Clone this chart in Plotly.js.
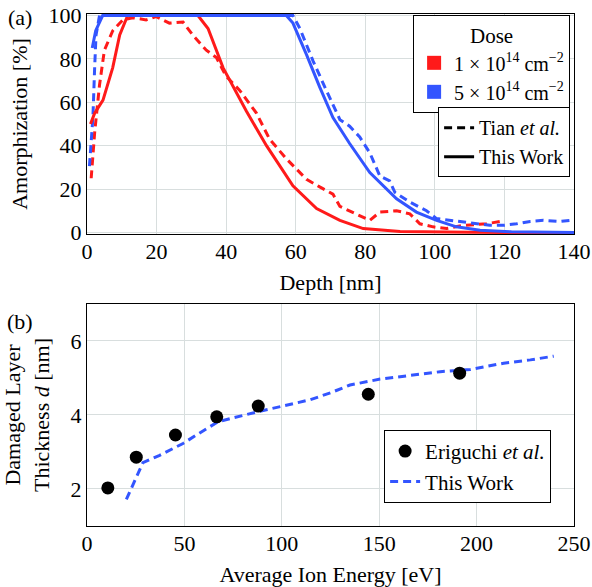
<!DOCTYPE html>
<html>
<head>
<meta charset="utf-8">
<script src="https://cdn.plot.ly/plotly-3.0.1.min.js"></script>
<style>html,body{margin:0;padding:0;background:#fff;}#chart{width:592px;height:587px;}</style>
</head>
<body>
<div id="chart"></div>
<script>
// ---- Panel (a): amorphization vs depth ----
const redWorkDepth = [1, 2.2, 4.6, 7.4, 9.4, 11.7, 20, 31.9, 34.8, 39.1, 45.8, 51.6, 59.2, 66, 72.7, 79.4, 90, 100, 110, 120, 140];
const redWorkAmorph = [50, 55, 61, 76, 91, 100, 100, 100, 94, 76, 56, 40, 21.5, 11, 5.6, 1.8, 0.5, 0.2, 0.1, 0, 0];

const redTianDepth = [1.2, 2.2, 3.6, 5, 7.4, 10.3, 13.2, 17, 19.9, 23.7, 27.6, 30.4, 34.3, 37.2, 40, 43.9, 48.7, 52.5, 57.3, 63.1, 66.9, 70.7, 72.7, 78.4, 81.3, 84.2, 89, 92.8, 95.7, 99.5, 103.4, 108.2, 114.9, 118.7];
const redTianAmorph = [25, 46, 68, 84, 93, 98, 99, 98, 99.5, 96.5, 97, 91, 84, 80.6, 72, 65.5, 55, 43, 34, 24.5, 21, 17.7, 12, 7.9, 5.6, 9.4, 10, 8.6, 4, 2.6, 1.8, 3.3, 4, 5.1];

const blueWorkDepth = [1.5, 2.5, 4.5, 20, 57.3, 59.2, 63.1, 66.9, 70.7, 75.5, 81.3, 89, 94.7, 100.5, 106.2, 113, 122, 140];
const blueWorkAmorph = [85, 93, 100, 100, 100, 96.5, 82, 67, 53, 41, 27.6, 15.5, 9.4, 5.6, 2.6, 1, 0.3, 0];

const blueTianDepth = [0.7, 1.7, 2.2, 2.6, 3.6, 59.2, 61.2, 65, 68.8, 72.7, 75.5, 78.4, 81.3, 84.2, 87, 88.5, 92.8, 97.6, 100.5, 104.3, 108.2, 112, 115.8, 119.7, 123.5, 127.4, 131.2, 136, 138.8, 140];
const blueTianAmorph = [30.6, 53, 76, 91, 100, 100, 94, 79, 65.5, 52, 49, 44, 36.7, 26, 23.8, 18.5, 14, 10, 6.4, 5.6, 4.9, 4, 3.3, 3.3, 4, 5.1, 5.6, 5.1, 5.6, 5];

const depthTicks = [0, 20, 40, 60, 80, 100, 120, 140];
const amorphTicks = [0, 20, 40, 60, 80, 100];

// ---- Panel (b): damaged layer thickness vs energy ----
const eriguchiEnergy = [10.7, 25.3, 45.4, 66.6, 87.9, 144.4, 191.3];
const eriguchiThickness = [2.03, 2.86, 3.46, 3.95, 4.24, 4.56, 5.13];
const workEnergy = [20.2, 28.7, 37.3, 49.3, 56.2, 67.3, 87.9, 114.5, 125, 135, 150.5, 181.3, 196.8, 213.9, 227.6, 239.6];
const workThickness = [1.72, 2.71, 2.91, 3.23, 3.46, 3.82, 4.09, 4.41, 4.6, 4.81, 4.97, 5.17, 5.23, 5.40, 5.49, 5.59];
const energyTicks = [0, 50, 100, 150, 200, 250];
const thicknessTicks = [2, 4, 6];

const RED = '#ff1a1a';
const BLUE = '#3355ff';
const DASH = '8px,5px';
const FONT = 'Liberation Serif';
const FS = 22;
function mkFont(size) { return {family: FONT, size: size}; }

const traces = [
  {x: redTianDepth, y: redTianAmorph, mode: 'lines', line: {color: RED, width: 3, dash: DASH}, showlegend: false, xaxis: 'x', yaxis: 'y'},
  {x: blueTianDepth, y: blueTianAmorph, mode: 'lines', line: {color: BLUE, width: 3, dash: DASH}, showlegend: false, xaxis: 'x', yaxis: 'y'},
  {x: redWorkDepth, y: redWorkAmorph, mode: 'lines', line: {color: RED, width: 3}, showlegend: false, xaxis: 'x', yaxis: 'y'},
  {x: blueWorkDepth, y: blueWorkAmorph, mode: 'lines', line: {color: BLUE, width: 3}, showlegend: false, xaxis: 'x', yaxis: 'y'},
  // legend-only entries
  {x: [null], y: [null], mode: 'markers', marker: {symbol: 'square', size: 14, color: RED}, name: '1 × 10<sup>14</sup> cm<sup>−2</sup>', legend: 'legend', xaxis: 'x', yaxis: 'y'},
  {x: [null], y: [null], mode: 'markers', marker: {symbol: 'square', size: 14, color: BLUE}, name: '5 × 10<sup>14</sup> cm<sup>−2</sup>', legend: 'legend', xaxis: 'x', yaxis: 'y'},
  {x: [null], y: [null], mode: 'lines', line: {color: 'black', width: 3, dash: DASH}, name: 'Tian <i>et al.</i>', legend: 'legend2', xaxis: 'x', yaxis: 'y'},
  {x: [null], y: [null], mode: 'lines', line: {color: 'black', width: 3}, name: 'This Work', legend: 'legend2', xaxis: 'x', yaxis: 'y'},
  // panel b
  {x: workEnergy, y: workThickness, mode: 'lines', line: {color: BLUE, width: 3, dash: DASH}, name: 'This Work', legend: 'legend3', xaxis: 'x2', yaxis: 'y2'},
  {x: eriguchiEnergy, y: eriguchiThickness, mode: 'markers', marker: {color: 'black', size: 13}, name: 'Eriguchi <i>et al.</i>', legend: 'legend3', xaxis: 'x2', yaxis: 'y2'}
];

function mkAxis(extra) {
  return Object.assign({
    showline: true, mirror: true, linecolor: 'black', linewidth: 1.2,
    showgrid: true, gridcolor: '#d8dede', gridwidth: 1,
    zeroline: false, ticks: '', tickfont: mkFont(FS),
    automargin: false
  }, extra);
}
function mkLegend(extra) {
  return Object.assign({
    font: mkFont(20),
    bgcolor: 'white', bordercolor: 'black', borderwidth: 1,
    xref: 'paper', yref: 'paper', xanchor: 'right', yanchor: 'top',
    tracegroupgap: 0, itemwidth: 30
  }, extra);
}

const layout = {
  width: 592, height: 587,
  margin: {l: 87, r: 18, t: 14, b: 61},
  paper_bgcolor: 'white', plot_bgcolor: 'white',
  font: {family: FONT, size: FS, color: 'black'},
  xaxis: mkAxis({domain: [0, 1], range: [0, 140], tickvals: depthTicks, anchor: 'y', ticklabelstandoff: -3,
    title: {text: 'Depth [nm]', font: mkFont(FS), standoff: 12}}),
  yaxis: mkAxis({domain: [0.5703, 1], range: [-0.7, 100.7], tickvals: amorphTicks, anchor: 'x',
    title: {text: 'Amorphization [%]', font: mkFont(FS), standoff: 14}}),
  xaxis2: mkAxis({domain: [0, 1], range: [0, 250], tickvals: energyTicks, anchor: 'y2', ticklabelstandoff: -3,
    title: {text: 'Average Ion Energy [eV]', font: mkFont(FS), standoff: 14}}),
  yaxis2: mkAxis({domain: [0, 0.4336], range: [1, 7], tickvals: thicknessTicks, anchor: 'x2',
    title: {text: 'Damaged Layer<br>Thickness <i>d</i> [nm]', font: mkFont(FS), standoff: 18}}),
  legend: mkLegend({x: 0.992, y: 0.998,
    title: {text: 'Dose', side: 'top center', font: mkFont(21)}}),
  legend2: mkLegend({x: 0.992, y: 0.818}),
  legend3: mkLegend({x: 0.953, y: 0.045, yanchor: 'bottom', traceorder: 'reversed', font: mkFont(21)}),
  annotations: [
    {text: '(a)', xref: 'paper', yref: 'paper', x: -0.138, y: 0.994, xanchor: 'center', yanchor: 'middle', showarrow: false, font: mkFont(FS)},
    {text: '(b)', xref: 'paper', yref: 'paper', x: -0.138, y: 0.400, xanchor: 'center', yanchor: 'middle', showarrow: false, font: mkFont(FS)}
  ],
  showlegend: true
};

Plotly.newPlot('chart', traces, layout, {displayModeBar: false, staticPlot: true});
</script>
</body>
</html>
